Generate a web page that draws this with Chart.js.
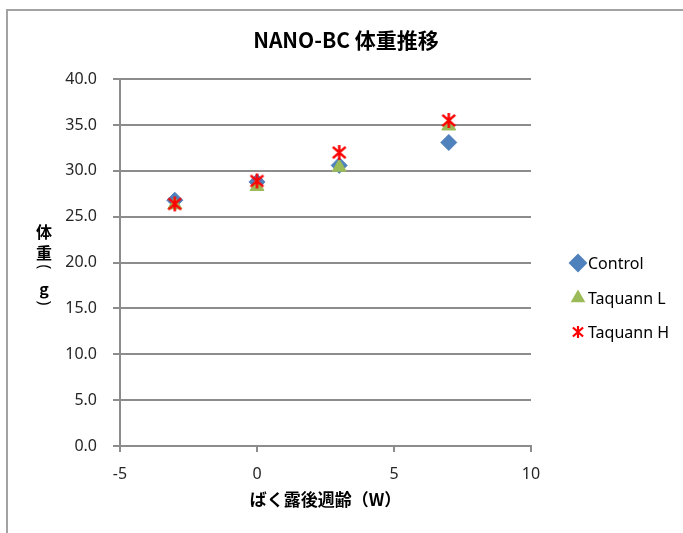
<!DOCTYPE html>
<html>
<head>
<meta charset="utf-8">
<script src="https://cdn.jsdelivr.net/npm/chart.js@4/dist/chart.umd.min.js"></script>
<style>
  html, body { margin: 0; padding: 0; background: #fff; }
  #wrap { position: relative; width: 683px; height: 533px; }
</style>
</head>
<body>
<div id="wrap"><canvas id="graph" width="683" height="533"></canvas></div>
<script>
// data
const weeks = [-3, 0, 3, 7];
const control = [26.8, 28.8, 30.6, 33.1];
const taquannL = [26.3, 28.3, 30.4, 34.9];
const taquannH = [26.4, 28.9, 32.0, 35.5];
const yTitleChars = ['体', '重', '(', 'g', ')'];

const toPoints = (vals) => weeks.map((w, i) => ({ x: w, y: vals[i] }));

// asterisk marker (X plus a vertical bar) for Taquann H
function asterisk(size, lw) {
    const c = document.createElement('canvas');
    c.width = size; c.height = size;
    const g = c.getContext('2d');
    g.strokeStyle = '#FF0000';
    g.lineWidth = lw;
    const m = size / 2, r = size / 2 - 1;
    g.beginPath();
    g.moveTo(m, m - r); g.lineTo(m, m + r);
    g.moveTo(m - r * 0.85, m - r * 0.75); g.lineTo(m + r * 0.85, m + r * 0.75);
    g.moveTo(m + r * 0.85, m - r * 0.75); g.lineTo(m - r * 0.85, m + r * 0.75);
    g.stroke();
    return c;
}
const starBig = asterisk(17, 2.5);
const starSmall = asterisk(14, 2.2);

const font = '"Noto Sans", "Noto Sans CJK JP", sans-serif';
const cjkFont = '"Noto Sans CJK JP", "Noto Sans", sans-serif';

// outer frame + vertical y title + legend
const decor = {
    id: 'decor',
    afterDraw(chart) {
        const ctx = chart.ctx;
        ctx.save();
        ctx.strokeStyle = '#a3a3a3';
        ctx.lineWidth = 2;
        ctx.beginPath();
        ctx.moveTo(7, 533); ctx.lineTo(7, 10); ctx.lineTo(683, 10);
        ctx.stroke();

        // vertical y axis title
        ctx.fillStyle = '#000';
        ctx.textAlign = 'center';
        ctx.textBaseline = 'middle';
        const ys = [232, 253, 267, 289, 303];
        yTitleChars.forEach((ch, i) => {
            if (ch === '(' || ch === ')') {
                ctx.save();
                ctx.translate(44, ys[i]);
                ctx.rotate(Math.PI / 2);
                ctx.font = '16px ' + font;
                ctx.fillText(ch, 0, 0);
                ctx.restore();
            } else {
                ctx.font = 'bold 16px ' + cjkFont;
                ctx.fillText(ch, 44, ys[i]);
            }
        });

        // legend
        const rows = [263, 298, 332];
        ctx.textAlign = 'left';
        ctx.font = '16px ' + font;
        chart.data.datasets.forEach((ds, i) => {
            const y = rows[i];
            ctx.fillStyle = ds.backgroundColor;
            ctx.strokeStyle = ds.borderColor;
            if (ds.pointStyle instanceof HTMLCanvasElement) {
                ctx.drawImage(starSmall, 578 - 7, y - 7);
            } else {
                Chart.helpers.drawPoint(ctx, {
                    pointStyle: ds.pointStyle,
                    radius: ds.pointStyle === 'triangle' ? 6.5 : 8,
                    borderWidth: 1,
                    rotation: 0
                }, 578, y);
            }
            ctx.fillStyle = '#000';
            ctx.fillText(ds.label, 588, y + 1);
        });
        ctx.restore();
    }
};

new Chart(document.getElementById('graph'), {
    type: 'scatter',
    data: {
        datasets: [
            {
                label: 'Control',
                data: toPoints(control),
                pointStyle: 'rectRot',
                pointRadius: 8,
                backgroundColor: '#4F81BD',
                borderColor: '#4F81BD',
                borderWidth: 1,
                order: 3
            },
            {
                label: 'Taquann L',
                data: toPoints(taquannL),
                pointStyle: 'triangle',
                pointRadius: 8,
                backgroundColor: '#9BBB59',
                borderColor: '#9BBB59',
                borderWidth: 1,
                order: 2
            },
            {
                label: 'Taquann H',
                data: toPoints(taquannH),
                pointStyle: starBig,
                pointRadius: 8,
                backgroundColor: '#FF0000',
                borderColor: '#FF0000',
                borderWidth: 1,
                order: 1
            }
        ]
    },
    options: {
        responsive: false,
        animation: false,
        events: [],
        layout: { padding: { left: 9, right: 0, top: 0, bottom: 0 } },
        scales: {
            x: {
                type: 'linear',
                min: -5,
                max: 10,
                afterFit: (s) => { s.height = 87; },
                border: { display: true, color: '#8c8c8c', width: 2 },
                grid: { drawOnChartArea: false, color: '#8c8c8c', lineWidth: 2, tickLength: 6 },
                ticks: { stepSize: 5, color: '#262626', padding: 13, font: { family: font, size: 16 } },
                title: {
                    display: true,
                    text: 'ばく露後週齢（W）',
                    color: '#000',
                    padding: { top: 0, bottom: 23 },
                    font: { family: cjkFont, size: 17, weight: 'bold' }
                }
            },
            y: {
                min: 0,
                max: 40,
                afterFit: (s) => { s.width = 111; },
                border: { display: true, color: '#8c8c8c', width: 2 },
                grid: { color: '#8c8c8c', lineWidth: 2, tickLength: 7 },
                ticks: {
                    stepSize: 5,
                    color: '#262626',
                    padding: 16,
                    font: { family: font, size: 16 },
                    callback: (v) => v.toFixed(1)
                }
            },
            // empty right-hand band that leaves room for the legend
            side: {
                type: 'linear',
                position: 'right',
                display: true,
                afterFit: (s) => { s.width = 152; },
                border: { display: false },
                grid: { display: false },
                ticks: { display: false }
            }
        },
        plugins: {
            legend: { display: false },
            tooltip: { enabled: false },
            title: {
                display: true,
                text: 'NANO-BC 体重推移',
                color: '#000',
                padding: { top: 27, bottom: 27 },
                font: { family: cjkFont, size: 21, weight: 'bold' }
            }
        }
    },
    plugins: [decor]
});
</script>
</body>
</html>
